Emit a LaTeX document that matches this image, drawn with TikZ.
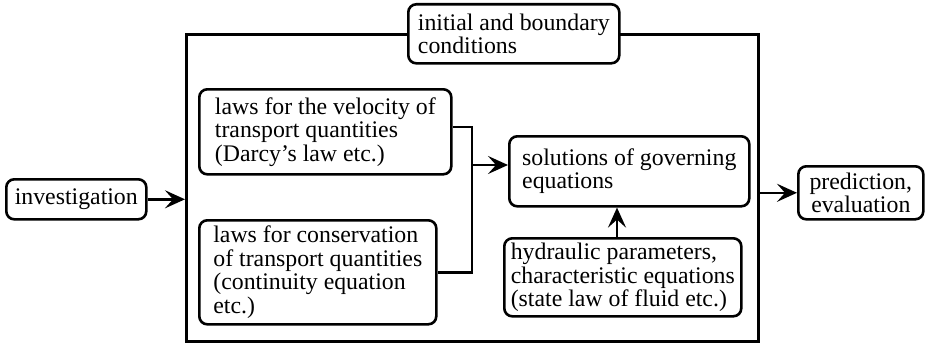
\documentclass[tikz,border=0pt]{standalone}
\usepackage{fontspec}
\setmainfont{Liberation Serif}
\usetikzlibrary{arrows.meta,calc}
\begin{document}
\begin{tikzpicture}[x=1pt,y=-1pt,
  every node/.style={font=\fontsize{23.8}{23.5}\selectfont},
  rbox/.style={draw,line width=2.6pt,rounded corners=8pt,fill=white,inner ysep=0pt,inner xsep=2pt,anchor=north west},
  conn/.style={line width=2.6pt},
  arr/.style={line width=2.6pt,-{Stealth[length=20pt,width=18pt,inset=8pt]}}]
\useasboundingbox (0,0) rectangle (925,345);
% outer frame
\node[draw,line width=2.6pt,minimum width=572pt,minimum height=307pt,inner sep=0pt,anchor=north west] (frame) at (185,33) {};
% boxes
\node[rbox,minimum width=211pt,minimum height=59pt,align=left] (init) at (407,3) {initial and boundary\\conditions};
\node[rbox,minimum width=140pt,minimum height=40pt,align=center] (inv) at (5,178) {investigation};
\node[rbox,minimum width=252pt,minimum height=85pt,align=left] (vel) at (198,88) {laws for the velocity of\\transport quantities\\(Darcy’s law etc.)};
\node[rbox,minimum width=237pt,minimum height=104pt,align=left] (cons) at (198,219) {laws for conservation\\of transport quantities\\(continuity equation\\etc.)};
\node[rbox,minimum width=240pt,minimum height=70pt,align=left] (sol) at (508,135) {solutions of governing\\equations};
\node[rbox,minimum width=237pt,minimum height=78pt,align=left] (hyd) at (503,237) {hydraulic parameters,\\characteristic equations\\(state law of fluid etc.)};
\node[rbox,minimum width=125pt,minimum height=53pt,align=center] (pred) at (797,165) {prediction,\\evaluation};
% connectors
\coordinate (jt) at (472,127);
\coordinate (jm) at (472,165);
\draw[arr] (inv.east) -- (inv.east -| frame.west);
\draw[conn] (vel.east |- jt) -- (jt) |- (cons.east);
\draw[arr] (jm) -- (jm -| sol.west);
\draw[arr] (hyd.north -| 617,0) -- (sol.south -| 617,0);
\draw[arr] (frame.east |- pred.west) -- (pred.west);
\end{tikzpicture}
\end{document}
